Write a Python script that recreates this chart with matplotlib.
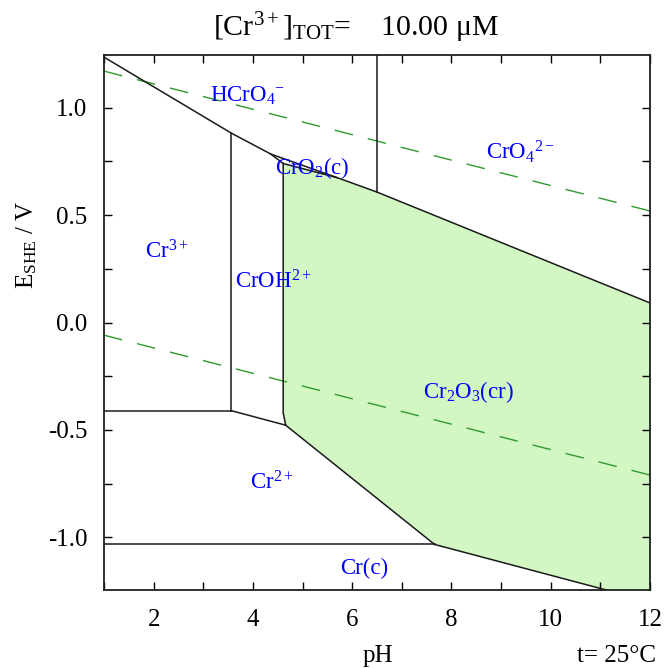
import matplotlib
matplotlib.use("Agg")
import matplotlib.pyplot as plt
import numpy as np

plt.rcParams['font.family'] = ['Liberation Serif', 'DejaVu Serif']
plt.rcParams['mathtext.fontset'] = 'custom'
plt.rcParams['mathtext.rm'] = 'Liberation Serif'
plt.rcParams['mathtext.it'] = 'Liberation Serif:italic'
plt.rcParams['mathtext.bf'] = 'Liberation Serif:bold'

# ---- data (pH, E/V) ----
xlim = (1.0, 12.0)
ylim = (-1.245, 1.245)

# upper boundary: Cr3+/HCrO4-, CrOH2+/HCrO4-, CrO2/HCrO4-, Cr2O3/HCrO4-, Cr2O3/CrO4 2-
upper_pH = [1.0, 3.56, 4.36, 5.7, 6.5, 12.0]
upper_E = [1.235, 0.882, 0.784, 0.674, 0.607, 0.091]

# CrO2(c) lower edge
cro2_pH = [4.36, 4.61, 5.7]
cro2_E = [0.784, 0.740, 0.674]

# Cr3+ / CrOH2+ vertical
cr3_croh_pH = [3.56, 3.56]
cr3_croh_E = [0.882, -0.410]

# Cr3+ / Cr2+ horizontal
cr3_cr2_pH = [1.0, 3.56]
cr3_cr2_E = [-0.410, -0.410]

# CrOH2+ / Cr2+
croh_cr2_pH = [3.56, 4.66]
croh_cr2_E = [-0.410, -0.478]

# Cr2O3 left edge (CrOH2+ / Cr2O3)
cr2o3_left_pH = [4.61, 4.61, 4.66]
cr2o3_left_E = [0.740, -0.420, -0.478]

# Cr2+ / Cr2O3
cr2_cr2o3_pH = [4.66, 7.66]
cr2_cr2o3_E = [-0.478, -1.033]

# Cr(c) / Cr2O3
cr_cr2o3_pH = [7.66, 11.12]
cr_cr2o3_E = [-1.033, -1.245]

# Cr(c) / Cr2+ horizontal
cr_cr2_pH = [1.0, 7.66]
cr_cr2_E = [-1.033, -1.033]

# HCrO4- / CrO4 2- vertical
hcro4_cro4_pH = [6.5, 6.5]
hcro4_cro4_E = [0.607, 1.245]

# water stability lines
water_pH = [1.0, 12.0]
o2_E = [1.170, 0.519]
h2_E = [-0.059, -0.710]

# labels
labels = [r"HCrO$_4$$^{-}$", r"CrO$_4$$^{2-}$", r"CrO$_2$(c)", r"Cr$^{3+}$",
          r"CrOH$^{2+}$", r"Cr$_2$O$_3$(cr)", r"Cr$^{2+}$", r"Cr(c)"]
label_pH = [3.90, 9.38, 5.20, 2.27, 4.42, 8.35, 4.38, 6.24]
label_E = [1.054, 0.794, 0.719, 0.328, 0.189, -0.324, -0.747, -1.143]

x_major = [2, 4, 6, 8, 10, 12]
x_minor = [1, 3, 5, 7, 9, 11]
y_major = [-1.0, -0.5, 0.0, 0.5, 1.0]
y_minor = [-0.75, -0.25, 0.25, 0.75]
y_ticklabels = ["-1.0", "-0.5", "0.0", "0.5", "1.0"]

# ---- figure ----
W, H = 672, 668
fig = plt.figure(figsize=(W / 100, H / 100), dpi=100)
ax = fig.add_axes([104 / W, 1 - 590 / H, 546 / W, 535 / H])
ax.set_xlim(*xlim)
ax.set_ylim(*ylim)

fill_color = '#d3f7c3'
# Cr2O3 region: left edge down, lower edges, right side up, upper line back
poly_pH = (cr2o3_left_pH + cr2_cr2o3_pH[1:] + cr_cr2o3_pH[1:] + [xlim[1]]
           + upper_pH[::-1][:3] + [cro2_pH[1]])
poly_E = (cr2o3_left_E + cr2_cr2o3_E[1:] + cr_cr2o3_E[1:] + [ylim[0]]
          + upper_E[::-1][:3] + [cro2_E[1]])
ax.fill(poly_pH, poly_E, color=fill_color, lw=0, zorder=1)

lc = '#1a1a1a'
lw = 1.1
for px, py in [(upper_pH, upper_E), (cro2_pH, cro2_E), (cr3_croh_pH, cr3_croh_E),
               (cr3_cr2_pH, cr3_cr2_E), (croh_cr2_pH, croh_cr2_E),
               (cr2o3_left_pH, cr2o3_left_E), (cr2_cr2o3_pH, cr2_cr2o3_E),
               (cr_cr2o3_pH, cr_cr2o3_E), (cr_cr2_pH, cr_cr2_E),
               (hcro4_cro4_pH, hcro4_cro4_E)]:
    ax.plot(px, py, color=lc, lw=lw, zorder=3, solid_joinstyle='miter')

gc = '#2e9a2e'
for wE in (o2_E, h2_E):
    ax.plot(water_pH, wE, color=gc, lw=1.0, dashes=(13.5, 11), zorder=2)

for t, xx, yy in zip(labels, label_pH, label_E):
    ax.text(xx, yy, t, color='#0000ff', fontsize=16.5, ha='center', va='center', zorder=5)

ax.set_xticks(x_major)
ax.set_xticks(x_minor, minor=True)
ax.set_yticks(y_major)
ax.set_yticks(y_minor, minor=True)
ax.set_yticklabels(y_ticklabels)
ax.tick_params(which='both', direction='in', length=6, width=1.0,
               top=True, right=True, labelsize=18)
ax.tick_params(axis='x', pad=14)
ax.tick_params(axis='y', pad=12)
for s in ax.spines.values():
    s.set_linewidth(1.3)
    s.set_color('#202020')

fig.text(27 / W, 1 - 245 / H, r"E$_{\rm SHE}$ / V", rotation=90,
         fontsize=18, ha='center', va='center')
fig.text(378 / W, 1 - 656 / H, "pH", fontsize=18, ha='center', va='center')
fig.text(656 / W, 1 - 656 / H, "t= 25°C", fontsize=18, ha='right', va='center')
fig.text(356 / W, 1 - 28 / H, r"[Cr$^{3+}$]$_{\rm TOT}$=    10.00 μM", fontsize=21.5,
         ha='center', va='center')

fig.savefig("out.png", dpi=100)
